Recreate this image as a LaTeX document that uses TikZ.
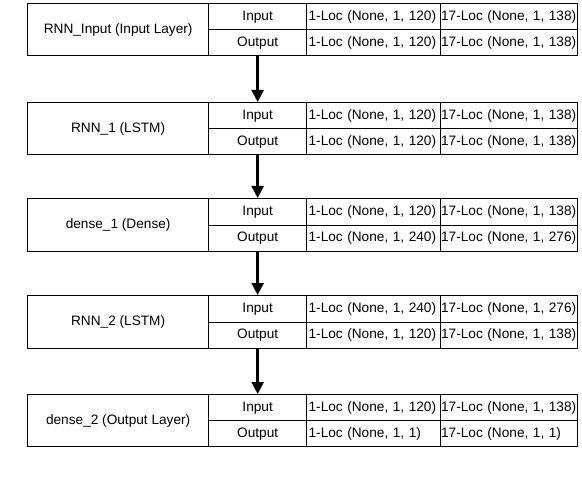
\documentclass[tikz,border=0pt]{standalone}
\usepackage{fontspec}
\setmainfont{Liberation Sans}
\usetikzlibrary{arrows.meta}
\newcommand\cellfont{\fontsize{13.7}{16}\selectfont}
\tikzset{
  cell/.style={draw=black, line width=1.3bp, inner sep=0pt, anchor=north west,
    font=\cellfont, text height=10bp, text depth=3bp},
  namecell/.style={cell, minimum width=181bp, align=center},
  iocell/.style={cell, minimum width=98bp, align=center},
  loccell/.style={cell, text width=#1, align=left, inner xsep=2bp},
  flow/.style={line width=2.4bp, -{Triangle[width=12bp,length=12bp]}}
}
% #1 id, #2 top, #3 height, #4 name, #5 in col3, #6 in col4, #7 out col3, #8 out col4
\newcommand\layerblock[8]{%
  \pgfmathsetmacro\halfh{#3/2}%
  \pgfmathsetmacro\midy{#2+#3/2}%
  \node[namecell, minimum height=#3bp] (#1name) at (27,#2) {#4};
  \node[iocell, minimum height=\halfh bp] (#1in) at (208,#2) {Input};
  \node[iocell, minimum height=\halfh bp] (#1out) at (208,\midy) {Output};
  \node[loccell=130bp, minimum height=\halfh bp] (#1ina) at (306,#2) {\mbox{#5}};
  \node[loccell=136bp, minimum height=\halfh bp, inner xsep=0.5bp] (#1inb) at (440,#2) {\mbox{#6}};
  \node[loccell=130bp, minimum height=\halfh bp] (#1outa) at (306,\midy) {\mbox{#7}};
  \node[loccell=136bp, minimum height=\halfh bp, inner xsep=0.5bp] (#1outb) at (440,\midy) {\mbox{#8}};
}
\begin{document}
\begin{tikzpicture}[x=1bp, y=-1bp]
\useasboundingbox (0,0) rectangle (582,482);
\layerblock{b1}{3}{52}{RNN\_Input (Input Layer)}{1-Loc (None, 1, 120)}{17-Loc (None, 1, 138)}{1-Loc (None, 1, 120)}{17-Loc (None, 1, 138)}
\layerblock{b2}{102}{52}{RNN\_1 (LSTM)}{1-Loc (None, 1, 120)}{17-Loc (None, 1, 138)}{1-Loc (None, 1, 120)}{17-Loc (None, 1, 138)}
\layerblock{b3}{198}{53}{dense\_1 (Dense)}{1-Loc (None, 1, 120)}{17-Loc (None, 1, 138)}{1-Loc (None, 1, 240)}{17-Loc (None, 1, 276)}
\layerblock{b4}{295}{53}{RNN\_2 (LSTM)}{1-Loc (None, 1, 240)}{17-Loc (None, 1, 276)}{1-Loc (None, 1, 120)}{17-Loc (None, 1, 138)}
\layerblock{b5}{394}{52}{dense\_2 (Output Layer)}{1-Loc (None, 1, 120)}{17-Loc (None, 1, 138)}{1-Loc (None, 1, 1)}{17-Loc (None, 1, 1)}
\draw[flow] (b1out.south) -- (b2in.north);
\draw[flow] (b2out.south) -- (b3in.north);
\draw[flow] (b3out.south) -- (b4in.north);
\draw[flow] (b4out.south) -- (b5in.north);
\end{tikzpicture}
\end{document}
